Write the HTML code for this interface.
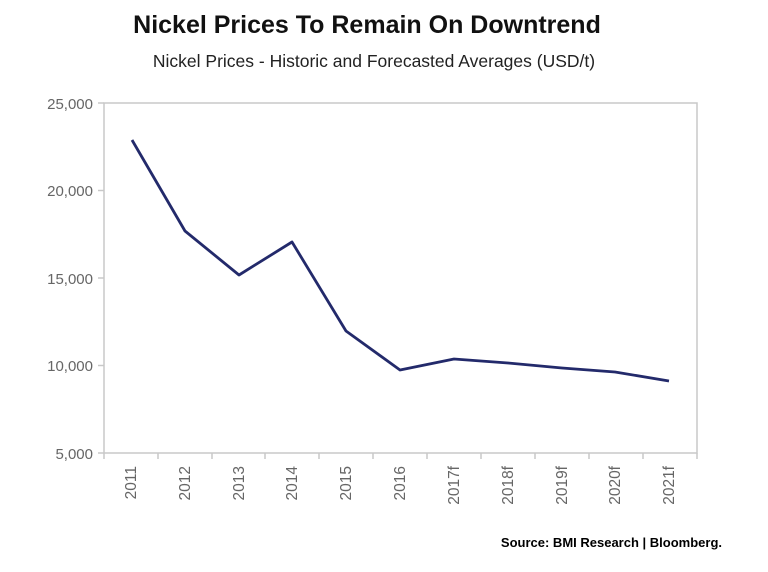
<!DOCTYPE html>
<html><head><meta charset="utf-8"><style>
body{margin:0;background:#fff;width:768px;height:567px;overflow:hidden;font-family:"Liberation Sans",sans-serif}
</style></head><body>
<svg width="768" height="567" xmlns="http://www.w3.org/2000/svg" font-family="Liberation Sans, sans-serif">
<text x="367" y="33" text-anchor="middle" font-size="25" font-weight="bold" fill="#111">Nickel Prices To Remain On Downtrend</text>
<text x="374" y="67" text-anchor="middle" font-size="17.5" fill="#222">Nickel Prices - Historic and Forecasted Averages (USD/t)</text>
<rect x="104" y="103" width="593" height="350" fill="none" stroke="#c8c8c8" stroke-width="1.5"/>
<g stroke="#c8c8c8" stroke-width="1.5">
<line x1="98" y1="103" x2="104" y2="103"/><line x1="98" y1="190.5" x2="104" y2="190.5"/><line x1="98" y1="278" x2="104" y2="278"/><line x1="98" y1="365.5" x2="104" y2="365.5"/><line x1="98" y1="453" x2="104" y2="453"/>
<line x1="104" y1="453" x2="104" y2="459"/><line x1="158" y1="453" x2="158" y2="459"/><line x1="212" y1="453" x2="212" y2="459"/><line x1="265" y1="453" x2="265" y2="459"/><line x1="319" y1="453" x2="319" y2="459"/><line x1="373" y1="453" x2="373" y2="459"/><line x1="427" y1="453" x2="427" y2="459"/><line x1="481" y1="453" x2="481" y2="459"/><line x1="535" y1="453" x2="535" y2="459"/><line x1="589" y1="453" x2="589" y2="459"/><line x1="643" y1="453" x2="643" y2="459"/><line x1="697" y1="453" x2="697" y2="459"/>
</g>
<g font-size="15" fill="#666" text-anchor="end">
<text x="93" y="109">25,000</text><text x="93" y="196">20,000</text><text x="93" y="284">15,000</text><text x="93" y="371">10,000</text><text x="93" y="459">5,000</text>
</g>
<g font-size="15.5" fill="#666" text-anchor="end">
<text transform="translate(136,466) rotate(-90)">2011</text>
<text transform="translate(190,466) rotate(-90)">2012</text>
<text transform="translate(244,466) rotate(-90)">2013</text>
<text transform="translate(297,466) rotate(-90)">2014</text>
<text transform="translate(351,466) rotate(-90)">2015</text>
<text transform="translate(405,466) rotate(-90)">2016</text>
<text transform="translate(459,466) rotate(-90)">2017f</text>
<text transform="translate(513,466) rotate(-90)">2018f</text>
<text transform="translate(567,466) rotate(-90)">2019f</text>
<text transform="translate(620,466) rotate(-90)">2020f</text>
<text transform="translate(674,466) rotate(-90)">2021f</text>
</g>
<polyline fill="none" stroke="#232a6b" stroke-width="2.8" stroke-linejoin="round" points="132,140 185,231 239,275 292,242 346,331 400,370 454,359 508,363 562,368 615,372 669,381"/>
<text x="722" y="547" text-anchor="end" font-size="13" font-weight="bold" fill="#000">Source: BMI Research | Bloomberg.</text>
</svg>
</body></html>
